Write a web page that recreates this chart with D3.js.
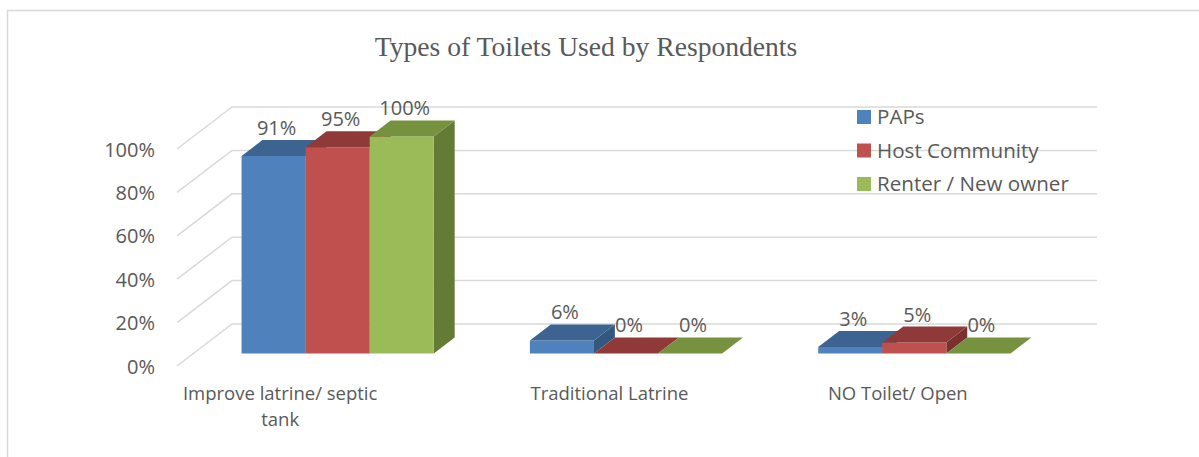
<!DOCTYPE html>
<html>
<head>
<meta charset="utf-8">
<script src="https://cdn.jsdelivr.net/npm/d3@7"></script>
<style>
  html, body { margin: 0; padding: 0; background: #fff; }
  svg { display: block; }
</style>
</head>
<body>
<svg id="chart" width="1199" height="457"></svg>
<script>
// ---- data ----
const categories = ["Improve latrine/ septic tank", "Traditional Latrine", "NO Toilet/ Open"];
const series = ["PAPs", "Host Community", "Renter / New owner"];
const papsValues = [0.91, 0.06, 0.03];
const hostValues = [0.95, 0.00, 0.05];
const renterValues = [1.00, 0.00, 0.00];
const tickValues = [0, 0.2, 0.4, 0.6, 0.8, 1.0];
const chartTitle = "Types of Toilets Used by Respondents";

const seriesValues = [papsValues, hostValues, renterValues];
const frontColors = ["#4F81BD", "#C0504D", "#9BBB59"];
const topColors   = ["#3D6491", "#8F3A38", "#76923E"];
const sideColors  = ["#34577F", "#7A302E", "#637B35"];

// ---- layout ----
const svg = d3.select("#chart");
const textColor = "#595959";
const font = "'Open Sans', sans-serif";

// 3D oblique projection parameters
const frontLeft = 177, frontRight = 1042, frontBase = 366;
const depthDX = 55, depthDY = -42;     // full floor depth offset
const barDepthStart = 0.3, barDepthSize = 0.38;

const x = d3.scaleBand().domain(categories).range([frontLeft, frontRight])
  .paddingInner(1/3).paddingOuter(1/6);
const xs = d3.scaleBand().domain(series).range([0, x.bandwidth()]);
const y = d3.scaleLinear().domain([0, 1]).range([0, 217]);

function proj(xf, v, depth) {
  return [xf + depth * depthDX, frontBase + depth * depthDY - y(v)];
}

// border
svg.append("rect").attr("x", 7.5).attr("y", 10.5).attr("width", 1250).attr("height", 500)
  .attr("fill", "none").attr("stroke", "#D9D9D9").attr("stroke-width", 1.5);

// title
svg.append("text").attr("x", 586).attr("y", 56).attr("text-anchor", "middle")
  .attr("font-family", "'Liberation Serif', 'Times New Roman', serif")
  .attr("font-size", 27.6).attr("fill", textColor).text(chartTitle);

// gridlines: left wall diagonals + back wall horizontals
const grid = svg.append("g").attr("stroke", "#D9D9D9").attr("stroke-width", 1.5).attr("fill", "none");
tickValues.forEach(t => {
  const a = proj(frontLeft, t, 0), b = proj(frontLeft, t, 1), c = proj(frontRight, t, 1);
  grid.append("path").attr("d", d3.line()([a, b, c]));
});

// y tick labels
svg.append("g").selectAll("text").data(tickValues).join("text")
  .attr("x", 155).attr("y", d => proj(frontLeft, d, 0)[1] + 7.5)
  .attr("text-anchor", "end").attr("font-family", font).attr("font-size", 20)
  .attr("fill", textColor).text(d3.format(".0%"));

// bars
const bars = svg.append("g");
const labels = svg.append("g");
categories.forEach((cat, ci) => {
  series.forEach((s, si) => {
    const v = seriesValues[si][ci];
    const xf = x(cat) + xs(s);
    const w = xs.bandwidth();
    const d0 = barDepthStart, d1 = barDepthStart + barDepthSize;
    const fbl = proj(xf, 0, d0), fbr = proj(xf + w, 0, d0);
    const ftl = proj(xf, v, d0), ftr = proj(xf + w, v, d0);
    const btl = proj(xf, v, d1), btr = proj(xf + w, v, d1);
    const bbr = proj(xf + w, 0, d1);
    if (v > 0) {
      bars.append("path").attr("d", d3.line()([ftr, btr, bbr, fbr]) + "Z").attr("fill", sideColors[si]);
      bars.append("path").attr("d", d3.line()([fbl, fbr, ftr, ftl]) + "Z").attr("fill", frontColors[si]);
    }
    bars.append("path").attr("d", d3.line()([ftl, ftr, btr, btl]) + "Z").attr("fill", topColors[si]);
    labels.append("text").attr("x", (ftl[0] + ftr[0]) / 2 + 3).attr("y", ftl[1] - 21)
      .attr("text-anchor", "middle").attr("font-family", font).attr("font-size", 20)
      .attr("fill", textColor).text(d3.format(".0%")(v));
  });
});

// category labels (wrapped)
const wrapWidth = 230;
const catFont = 18.5, catLine = 25.5;
categories.forEach(cat => {
  const cx = x(cat) + x.bandwidth() / 2;
  const words = cat.split(" ");
  let lines = [], line = [];
  const probe = svg.append("text").attr("font-family", font).attr("font-size", catFont);
  words.forEach(wd => {
    const test = line.concat(wd).join(" ");
    probe.text(test);
    if (probe.node().getComputedTextLength() > wrapWidth && line.length) {
      lines.push(line.join(" ")); line = [wd];
    } else line.push(wd);
  });
  lines.push(line.join(" "));
  probe.remove();
  const shift = lines.length > 1 ? -41 : 0;
  lines.forEach((ln, i) => {
    svg.append("text").attr("text-anchor", "middle").attr("font-family", font)
      .attr("font-size", catFont).attr("fill", textColor)
      .attr("x", cx + shift).attr("y", 400 + i * catLine).text(ln);
  });
});

// legend
const legend = svg.append("g");
series.forEach((s, i) => {
  const yy = 117 + i * 33.5;
  legend.append("rect").attr("x", 857).attr("y", yy - 7).attr("width", 14).attr("height", 14)
    .attr("fill", frontColors[i]);
  legend.append("text").attr("x", 877).attr("y", yy + 7).attr("font-family", font)
    .attr("font-size", 20.6).attr("fill", textColor).text(s);
});
</script>
</body>
</html>
